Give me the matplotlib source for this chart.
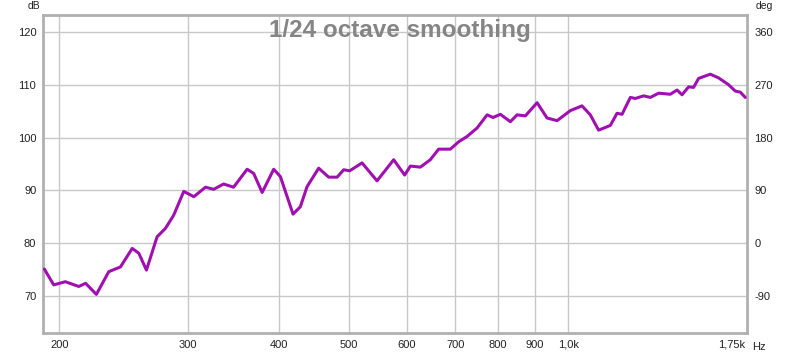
import numpy as np
import matplotlib
matplotlib.use("Agg")
import matplotlib.pyplot as plt

# frequency response (Hz, dB)
freq = [190.7, 196.4, 203.8, 212.6, 217.3, 224.8, 233.8, 242.6, 251.8, 257.1,
        263.4, 272.4, 279.7, 287.1, 296.4, 306.0, 317.5, 325.8, 336.2, 347.0,
        362.2, 369.8, 379.8, 394.0, 402.4, 418.8, 428.6, 437.8, 454.2, 468.8,
        481.5, 491.6, 501.0, 521.0, 546.3, 575.8, 596.2, 607.0, 626.5, 646.6,
        663.8, 688.9, 707.3, 726.2, 749.6, 773.8, 788.6, 807.1, 832.9, 850.8,
        873.4, 906.4, 935.5, 965.6, 1006.9, 1044.8, 1072.6, 1101.2, 1142.8, 1167.3,
        1185.9, 1217.5, 1236.9, 1269.7, 1296.9, 1331.5, 1381.6, 1411.2, 1433.8, 1463.9,
        1487.2, 1511.0, 1567.8, 1609.4, 1661.2, 1696.9, 1723.8, 1751.4]
spl = [75.1, 72.1, 72.7, 71.8, 72.4, 70.3, 74.6, 75.5, 79.0, 78.1,
       74.9, 81.2, 82.8, 85.3, 89.8, 88.8, 90.6, 90.2, 91.2, 90.6,
       94.0, 93.2, 89.6, 94.0, 92.6, 85.5, 86.9, 90.7, 94.2, 92.5,
       92.5, 93.9, 93.7, 95.2, 91.8, 95.8, 92.9, 94.6, 94.4, 95.8,
       97.8, 97.8, 99.2, 100.2, 101.8, 104.3, 103.8, 104.4, 103.0, 104.3,
       104.1, 106.6, 103.7, 103.2, 105.1, 106.0, 104.3, 101.4, 102.3, 104.6,
       104.4, 107.6, 107.4, 107.9, 107.6, 108.4, 108.2, 109.0, 108.1, 109.6,
       109.5, 111.2, 112.0, 111.3, 110.0, 108.8, 108.6, 107.6]

xticks = [200, 300, 400, 500, 600, 700, 800, 900, 1000, 1750]
xlabels = ['200', '300', '400', '500', '600', '700', '800', '900', '1,0k', '1,75k']
yticks = [70, 80, 90, 100, 110, 120]
degticks = [-90, 0, 90, 180, 270, 360]

plt.rcParams['font.family'] = ['Liberation Sans', 'DejaVu Sans']
plt.rcParams['axes.unicode_minus'] = False

fig = plt.figure(figsize=(8, 3.58), dpi=100)
ax = fig.add_axes([0.054, 0.070, 0.880, 0.888])

ax.plot(freq, spl, color='#a010b0', lw=2.2, solid_joinstyle='round',
        solid_capstyle='round', zorder=3)

ax.set_xscale('log')
ax.set_xlim(190, 1762)
ax.set_ylim(63.0, 123.2)
ax.set_xticks(xticks)
ax.set_xticklabels(xlabels)
ax.xaxis.set_minor_locator(matplotlib.ticker.NullLocator())
ax.set_yticks(yticks)
for f in xticks[:-1]:
    ax.axvline(f, color='#c8c8c8', lw=1, zorder=1)
for v in yticks:
    ax.axhline(v, color='#c8c8c8', lw=1, zorder=1)

ax.tick_params(length=0, labelsize=8, colors='#222222', pad=5)
for lab in ax.get_xticklabels():
    if lab.get_text() == '1,75k':
        lab.set_ha('right')

for s in ax.spines.values():
    s.set_color('#b0b0b0')
    s.set_linewidth(2)

# phase axis on the right
sec = ax.secondary_yaxis('right', functions=(lambda d: (d - 80) * 9, lambda p: p / 9 + 80))
sec.set_yticks(degticks)
sec.tick_params(length=0, labelsize=8, colors='#222222', pad=5)
sec.spines['right'].set_visible(False)

fig.text(0.034, 0.983, 'dB', fontsize=7.5, color='#222222', ha='left', va='center')
fig.text(0.944, 0.983, 'deg', fontsize=7.5, color='#222222', ha='left', va='center')
fig.text(0.940, 0.030, 'Hz', fontsize=8, color='#222222', ha='left', va='center')

fig.text(0.5, 0.914, '1/24 octave smoothing', ha='center', va='center',
         fontsize=17.5, fontweight='bold', color='#858585')

fig.savefig('out.png', dpi=100)
